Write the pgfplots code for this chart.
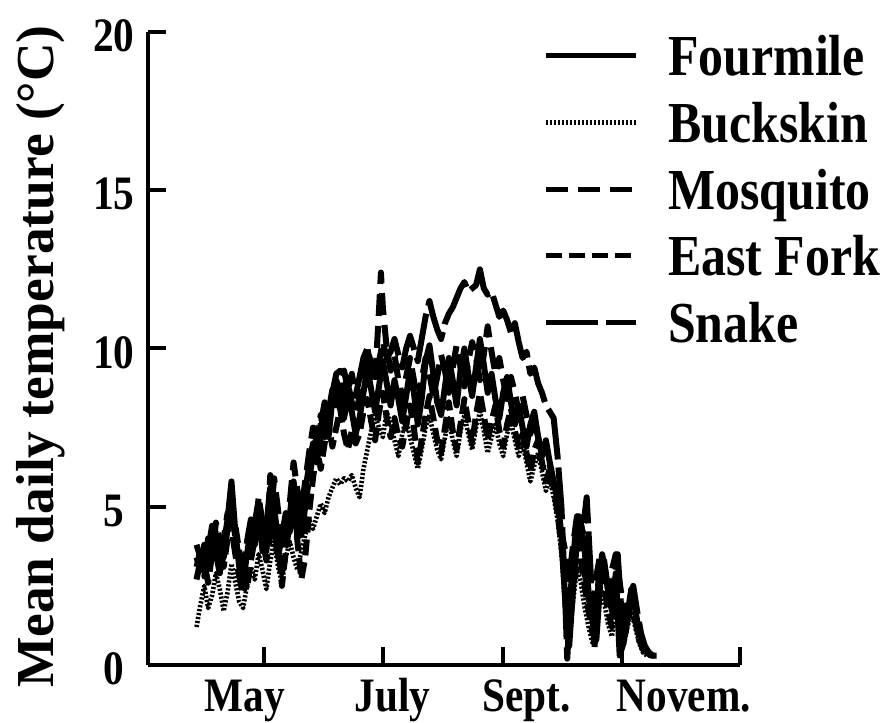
\documentclass[border=0pt]{standalone}
\usepackage{pgfplots}
\pgfplotsset{compat=1.18}
\usepackage{fontspec}
\setmainfont{Liberation Serif}[FakeStretch=0.86]
\newfontfamily\ylabfont{Liberation Serif}

\begin{document}
\begin{tikzpicture}
\path[use as bounding box] (0,0) rectangle (445.5pt,361.5pt);
\begin{axis}[
  at={(74pt,29pt)}, anchor=south west,
  width=296pt, height=316.5pt, scale only axis,
  xmin=61, xmax=366, ymin=0, ymax=20,
  axis x line=bottom, axis y line=left,
  axis line style={-, line width=2pt, black},
  tick align=inside,
  major tick length=9pt,
  tick style={black, line width=2pt},
  xtick={121,182,244,305,366},
  xticklabels={,,,,},
  extra x ticks={111,187,256,337},
  extra x tick labels={May,July,Sept.,Novem.},
  extra x tick style={major tick length=0pt},
  xticklabel style={anchor=base, yshift=-23.5pt, inner sep=0pt},
  ytick={0,5,10,15,20},
  yticklabels={0,5,10\kern-5pt,15\kern-5pt,20\kern-5pt},
  yticklabel style={anchor=east, xshift=-11.5pt, yshift=-2pt, inner sep=0pt},
  tick label style={font=\bfseries\fontsize{24}{28}\selectfont},
  ylabel={Mean daily temperature (°C)},
  ylabel style={at={(axis description cs:-0.182,0.487)}, anchor=center,
    font=\ylabfont\bfseries\fontsize{26.7}{32}\selectfont},
  legend cell align=left,
  legend image code/.code={\draw[#1, line width=2.5pt] (0pt,0pt) -- (45pt,0pt);},
  legend style={at={(axis description cs:0.667,0.995)}, anchor=north west,
    draw=none, fill=none, inner sep=0pt, row sep=13.4pt, column sep=15pt,
    font=\bfseries\fontsize{29}{34}\selectfont,
    nodes={inner sep=0pt, text height=20pt, text depth=0pt}},
  every axis plot/.append style={black, line join=round},
]
% Fourmile
\addplot[line width=3pt, solid] coordinates {
(86,3.4)(88,3.0)(90,3.8)(92,3.2)(94,4.1)(96,3.5)(98,2.9)(100,3.8)(102,4.6)(104,5.8)
(106,4.2)(108,3.1)(110,2.6)(112,3.5)(114,4.3)(116,3.8)(118,4.9)(120,3.6)(122,4.4)(124,5.6)
(126,4.5)(128,3.4)(130,4.1)(132,4.8)(134,4.2)(136,5.3)(138,4.0)(140,4.6)(142,5.5)(144,6.3)
(146,7.0)(148,6.4)(150,7.3)(152,7.9)(154,7.2)(156,8.4)(158,9.0)(160,8.6)(162,7.8)(164,8.5)
(166,8.0)(168,7.3)(170,7.8)(172,8.6)(174,9.4)(176,8.7)(178,8.0)(180,8.8)(182,9.6)(184,8.9)
(186,8.2)(188,9.0)(190,8.4)(192,7.7)(194,8.5)(196,9.3)(198,8.6)(200,7.6)(202,8.4)(204,9.6)
(206,10.1)(208,9.2)(210,8.3)(212,7.9)(214,8.8)(216,9.7)(218,9.0)(220,8.2)(222,9.3)(224,10.0)
(226,9.2)(228,8.5)(230,9.4)(232,10.3)(234,9.5)(236,8.6)(238,9.2)(240,8.4)(242,7.8)(244,8.6)
(246,9.1)(248,8.3)(250,7.6)(252,8.2)(254,7.5)(256,6.9)(258,7.6)(260,8.0)(262,7.2)(264,6.6)
(266,7.1)(268,6.4)(270,5.8)(272,5.2)(274,4.1)(276,2.0)(278,0.6)(280,2.4)(282,3.9)(284,4.5)
(286,3.6)(288,2.3)(290,1.4)(292,0.8)(294,2.6)(296,3.3)(298,2.4)(300,1.7)(302,2.9)(304,0.3)
(306,0.7)(308,1.6)(310,2.4)(312,1.8)(314,1.0)(316,0.6)(318,0.4)(320,0.3)
};
\addlegendentry{Fourmile}
% Buckskin
\addplot[line width=2.3pt, dash pattern=on 1.1pt off 0.9pt] coordinates {
(86,1.2)(88,1.9)(90,2.5)(92,1.8)(94,2.2)(96,2.9)(98,2.4)(100,1.7)(102,2.3)(104,3.2)
(106,2.6)(108,2.0)(110,1.8)(112,2.5)(114,3.1)(116,2.7)(118,3.5)(120,3.0)(122,2.4)(124,3.3)
(126,3.9)(128,3.1)(130,2.6)(132,3.4)(134,3.9)(136,3.4)(138,3.0)(140,3.6)(142,4.1)(144,4.6)
(146,4.3)(148,4.7)(150,5.1)(152,4.8)(154,5.3)(156,5.6)(158,5.9)(160,5.7)(162,5.9)(164,5.8)
(166,6.0)(168,5.6)(170,5.3)(172,6.2)(174,6.8)(176,7.4)(178,7.9)(180,7.5)(182,7.2)(184,8.0)
(186,7.6)(188,7.1)(190,6.6)(192,7.3)(194,7.8)(196,7.2)(198,6.7)(200,6.2)(202,6.8)(204,7.5)
(206,7.9)(208,7.3)(210,6.8)(212,6.5)(214,7.2)(216,7.8)(218,7.1)(220,6.6)(222,7.4)(224,7.9)
(226,7.3)(228,6.8)(230,7.5)(232,8.0)(234,7.4)(236,6.7)(238,7.2)(240,7.6)(242,7.0)(244,6.6)
(246,7.3)(248,7.7)(250,7.1)(252,6.6)(254,7.0)(256,6.4)(258,5.8)(260,6.3)(262,6.7)(264,6.1)
(266,5.5)(268,5.9)(270,5.3)(272,4.6)(274,3.5)(276,1.8)(278,0.9)(280,2.0)(282,3.1)(284,2.6)
(286,1.8)(288,1.2)(290,0.7)(292,1.6)(294,2.5)(296,2.0)(298,1.3)(300,0.9)(302,1.8)(304,1.1)
(306,0.6)(308,1.2)(310,1.7)(312,1.2)(314,0.7)(316,0.4)(318,0.3)
};
\addlegendentry{Buckskin}
% Mosquito
\addplot[line width=3pt, dash pattern=on 11pt off 5pt] coordinates {
(86,3.8)(88,3.4)(90,2.8)(92,3.6)(94,4.4)(96,3.9)(98,3.3)(100,4.0)(102,4.8)(104,4.3)
(106,3.5)(108,2.8)(110,2.2)(112,3.0)(114,3.8)(116,4.5)(118,5.2)(120,4.4)(122,3.7)(124,4.6)
(126,5.9)(128,4.9)(130,3.8)(132,4.5)(134,5.1)(136,6.4)(138,5.5)(140,4.9)(142,5.8)(144,6.7)
(146,7.5)(148,6.9)(150,7.6)(152,8.3)(154,7.7)(156,8.6)(158,9.2)(160,9.3)(162,8.5)(164,8.9)
(166,8.3)(168,7.9)(170,8.5)(172,9.2)(174,10.0)(176,9.4)(178,9.0)(180,11.2)(181,12.4)(182,11.3)
(184,10.0)(186,9.3)(188,9.8)(190,9.0)(192,8.4)(194,9.1)(196,9.7)(198,9.0)(200,8.3)(202,9.0)
(204,9.7)(206,9.2)(208,8.5)(210,9.1)(212,9.8)(214,9.3)(216,8.6)(218,9.4)(220,10.1)(222,9.4)
(224,8.8)(226,9.6)(228,10.2)(230,9.7)(232,9.0)(234,9.8)(236,10.7)(238,9.9)(240,9.2)(242,9.7)
(244,9.0)(246,8.4)(248,9.1)(250,8.6)(252,8.0)(254,8.5)(256,7.9)(258,7.3)(260,7.8)(262,7.2)
(264,6.6)(266,7.0)(268,6.3)(270,5.7)(272,5.0)(274,4.2)(276,3.6)(278,2.7)(280,3.8)(282,4.7)
(284,3.9)(286,2.9)(288,2.1)(290,1.5)(292,2.8)(294,3.5)(296,3.0)(298,2.2)(300,3.0)(302,3.5)
(304,2.6)(306,1.8)(308,1.3)(310,2.1)(312,1.6)(314,0.9)(316,0.5)(318,0.4)(320,0.3)(322,0.3)
};
\addlegendentry{Mosquito}
% East Fork
\addplot[line width=3pt, dash pattern=on 8pt off 3.5pt] coordinates {
(86,2.7)(88,3.3)(90,3.0)(92,4.0)(94,3.4)(96,4.3)(98,3.7)(100,3.1)(102,4.0)(104,5.0)
(106,4.4)(108,3.6)(110,3.0)(112,2.4)(114,3.3)(116,4.0)(118,5.3)(120,4.5)(122,3.6)(124,6.0)
(126,5.0)(128,3.9)(130,2.5)(132,3.6)(134,4.5)(136,5.0)(138,3.9)(140,2.7)(142,3.4)(144,4.8)
(146,5.9)(148,6.8)(150,6.2)(152,7.0)(154,7.6)(156,6.9)(158,7.5)(160,8.1)(162,7.3)(164,6.8)
(166,7.4)(168,7.0)(170,7.3)(172,8.0)(174,8.4)(176,7.7)(178,7.1)(180,8.0)(182,8.6)(184,7.8)
(186,7.2)(188,7.8)(190,7.2)(192,6.9)(194,7.6)(196,8.2)(198,7.5)(200,6.4)(202,7.1)(204,7.9)
(206,8.5)(208,7.8)(210,7.1)(212,6.7)(214,7.5)(216,8.3)(218,7.4)(220,6.8)(222,7.6)(224,8.4)
(226,7.7)(228,7.0)(230,7.9)(232,8.6)(234,7.9)(236,7.1)(238,7.7)(240,8.2)(242,7.4)(244,6.9)
(246,7.6)(248,8.1)(250,7.4)(252,6.9)(254,7.3)(256,6.7)(258,6.1)(260,6.8)(262,7.1)(264,6.4)
(266,5.8)(268,6.2)(270,5.6)(272,4.8)(274,3.8)(276,2.5)(278,1.2)(280,3.0)(282,4.2)(284,3.3)
(286,2.5)(288,1.7)(290,1.0)(292,1.9)(294,3.0)(296,2.5)(298,1.7)(300,1.2)(302,2.2)(304,1.5)
(306,0.9)(308,1.5)(310,2.0)(312,1.4)(314,0.8)(316,0.5)(318,0.3)
};
\addlegendentry{East Fork}
% Snake
\addplot[line width=3pt, dash pattern=on 26pt off 4pt] coordinates {
(86,3.1)(88,3.6)(90,3.2)(92,2.6)(94,3.5)(96,4.5)(98,3.9)(100,3.4)(102,4.3)(104,5.1)
(106,4.0)(108,3.3)(110,2.9)(112,3.9)(114,4.6)(116,4.1)(118,4.7)(120,4.0)(122,3.3)(124,4.1)
(126,4.8)(128,3.6)(130,2.9)(132,3.8)(134,4.7)(136,5.8)(138,4.8)(140,4.1)(142,5.0)(144,5.9)
(146,6.6)(148,7.3)(150,7.9)(152,7.2)(154,8.0)(156,8.7)(158,8.2)(160,9.0)(162,9.3)(164,8.7)
(166,9.2)(168,8.5)(170,9.1)(172,9.7)(174,10.0)(176,9.5)(178,9.1)(180,9.6)(182,10.2)(184,9.7)
(186,9.9)(188,10.3)(190,9.8)(192,9.4)(194,10.0)(196,10.4)(198,10.0)(200,9.6)(202,10.3)(204,11.0)
(206,11.5)(208,11.0)(210,10.6)(212,10.3)(214,10.8)(216,11.1)(218,11.3)(220,11.6)(222,11.9)(224,12.1)
(226,11.8)(228,11.9)(230,12.0)(232,12.5)(234,11.9)(236,11.7)(238,11.8)(240,11.4)(242,11.0)(244,11.2)
(246,10.9)(248,10.5)(250,10.8)(252,10.2)(254,9.7)(256,9.9)(258,9.2)(260,9.4)(262,8.9)(264,8.6)
(266,8.2)(268,8.0)(270,7.8)(272,6.6)(274,5.0)(276,2.0)(277,0.2)(279,2.5)(281,4.0)(283,4.7)
(285,4.2)(287,5.3)(289,3.0)(291,0.5)(293,2.6)(295,3.5)(297,2.8)(299,1.9)(301,2.6)(303,3.5)
(305,1.6)(307,1.0)(309,1.9)(311,2.5)(313,1.7)(315,1.0)(317,0.6)(319,0.4)(321,0.3)(323,0.3)
};
\addlegendentry{Snake}
\end{axis}
\end{tikzpicture}
\end{document}
